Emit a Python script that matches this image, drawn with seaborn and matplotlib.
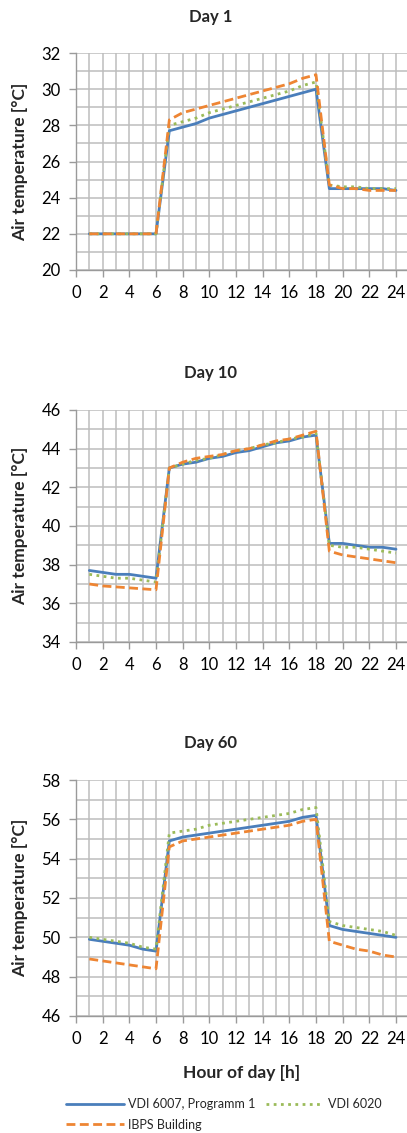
import numpy as np
import pandas as pd
import matplotlib
matplotlib.use("Agg")
import matplotlib.pyplot as plt
import seaborn as sns

# hours of the day
hours = list(range(1, 25))

# Day 1
day1_vdi6007 = [22, 22, 22, 22, 22, 22, 27.7, 27.9, 28.1, 28.4, 28.6, 28.8,
                29.0, 29.2, 29.4, 29.6, 29.8, 30.0, 24.5, 24.5, 24.5, 24.5, 24.5, 24.4]
day1_vdi6020 = [22, 22, 22, 22, 22, 22, 28.0, 28.2, 28.4, 28.7, 28.9, 29.1,
                29.3, 29.5, 29.7, 29.9, 30.2, 30.4, 24.7, 24.6, 24.6, 24.5, 24.5, 24.5]
day1_ibps = [22, 22, 22, 22, 22, 22, 28.3, 28.7, 28.9, 29.1, 29.3, 29.5,
             29.7, 29.9, 30.1, 30.3, 30.6, 30.8, 24.7, 24.5, 24.5, 24.4, 24.4, 24.4]

# Day 10
day10_vdi6007 = [37.7, 37.6, 37.5, 37.5, 37.4, 37.3, 43.0, 43.2, 43.3, 43.5, 43.6, 43.8,
                 43.9, 44.1, 44.3, 44.4, 44.6, 44.7, 39.1, 39.1, 39.0, 38.9, 38.9, 38.8]
day10_vdi6020 = [37.5, 37.4, 37.3, 37.3, 37.2, 37.1, 43.0, 43.2, 43.4, 43.5, 43.7, 43.9,
                 44.0, 44.2, 44.3, 44.5, 44.6, 44.8, 39.0, 38.9, 38.9, 38.8, 38.7, 38.6]
day10_ibps = [37.0, 36.9, 36.85, 36.8, 36.75, 36.7, 43.0, 43.3, 43.5, 43.6, 43.7, 43.9,
              44.0, 44.2, 44.4, 44.5, 44.7, 44.9, 38.7, 38.5, 38.4, 38.3, 38.2, 38.1]

# Day 60
day60_vdi6007 = [49.9, 49.8, 49.7, 49.6, 49.4, 49.3, 54.9, 55.1, 55.2, 55.3, 55.4, 55.5,
                 55.6, 55.7, 55.8, 55.9, 56.1, 56.2, 50.6, 50.4, 50.3, 50.2, 50.1, 50.0]
day60_vdi6020 = [50.0, 49.9, 49.8, 49.7, 49.5, 49.4, 55.3, 55.4, 55.5, 55.7, 55.8, 55.9,
                 56.0, 56.1, 56.2, 56.3, 56.5, 56.6, 50.8, 50.6, 50.5, 50.4, 50.3, 50.1]
day60_ibps = [48.9, 48.8, 48.7, 48.6, 48.5, 48.4, 54.6, 54.9, 55.0, 55.1, 55.2, 55.3,
              55.4, 55.5, 55.6, 55.7, 55.9, 56.0, 49.8, 49.6, 49.4, 49.3, 49.1, 49.0]

days = ["Day 1", "Day 10", "Day 60"]
series_names = ["VDI 6007, Programm 1", "VDI 6020", "IBPS Building"]
values = {
    "Day 1": [day1_vdi6007, day1_vdi6020, day1_ibps],
    "Day 10": [day10_vdi6007, day10_vdi6020, day10_ibps],
    "Day 60": [day60_vdi6007, day60_vdi6020, day60_ibps],
}
y_ranges = {"Day 1": (20, 32), "Day 10": (34, 46), "Day 60": (46, 58)}

colors = ["#4A7EBB", "#9BBB59", "#EE8533"]
styles = ["-", (0, (1, 1.6)), (0, (3.2, 1.6))]

sns.set_theme(style="white")
plt.rcParams["font.family"] = ["Lato", "DejaVu Sans"]

fig = plt.figure(figsize=(4.07, 11.33), dpi=100)

W, H = 407, 1133
# plot areas in pixels: (top, bottom)
areas = {"Day 1": (53, 270), "Day 10": (410, 642), "Day 60": (780, 1016)}
title_y = {"Day 1": 17, "Day 10": 373, "Day 60": 743}
x_left = 76
x_max = 24 * (W - x_left) / 320

grid_col = "#BDBDBD"
handles = []
for day in days:
    top, bot = areas[day]
    ax = fig.add_axes([x_left / W, 1 - bot / H, 1 - x_left / W, (bot - top) / H])
    df = pd.DataFrame({"hour": hours})
    for name, vals, c, ls in zip(series_names, values[day], colors, styles):
        df[name] = vals
        sns.lineplot(data=df, x="hour", y=name, ax=ax, color=c, linewidth=2.0,
                     linestyle=ls, label=name, legend=False)
    ax.set_xlim(0, x_max)
    ax.set_ylim(*y_ranges[day])
    ax.set_xticks(range(0, 25, 2))
    ax.set_xticks(range(1, 25, 2), minor=True)
    lo, hi = y_ranges[day]
    ax.set_yticks(range(lo, hi + 1, 2))
    ax.set_yticks(range(lo + 1, hi, 2), minor=True)
    ax.grid(True, which="both", color=grid_col, linewidth=1.1)
    ax.set_axisbelow(True)
    for s in ["top", "right"]:
        ax.spines[s].set_visible(False)
    for s in ["left", "bottom"]:
        ax.spines[s].set_color("#9A9A9A")
        ax.spines[s].set_linewidth(1.0)
    ax.tick_params(axis="both", which="major", length=5, width=1.0, color="#9A9A9A",
                   labelsize=12, pad=6, colors="black")
    ax.tick_params(axis="x", which="major", direction="out", bottom=True)
    ax.tick_params(axis="y", which="major", direction="out", left=True)
    ax.tick_params(which="minor", length=0)
    ax.set_xlabel("")
    ax.set_ylabel("")
    fig.text(20 / W, 1 - (top + bot) / 2 / H, "Air temperature [°C]", rotation=90,
             ha="center", va="center", fontsize=12.5, fontweight="bold")
    fig.text(211 / W, 1 - title_y[day] / H, day, ha="center", va="center",
             fontsize=12, fontweight="bold")
    if day == "Day 60":
        handles = ax.get_lines()

fig.text(242 / W, 1 - 1073 / H, "Hour of day [h]", ha="center", va="center",
         fontsize=12.5, fontweight="bold")

# legend ordering: column 1 -> blue, orange ; column 2 -> green
h = [handles[0], handles[2], handles[1]]
lab = [series_names[0], series_names[2], series_names[1]]
fig.legend(h, lab, loc="upper left", bbox_to_anchor=(66 / W, 1 - 1098 / H), ncol=2,
           frameon=False, fontsize=9, handlelength=4.6, handletextpad=0.4,
           columnspacing=0.8, labelspacing=0.7, borderpad=0, borderaxespad=0)

fig.savefig("out.png", dpi=100)
